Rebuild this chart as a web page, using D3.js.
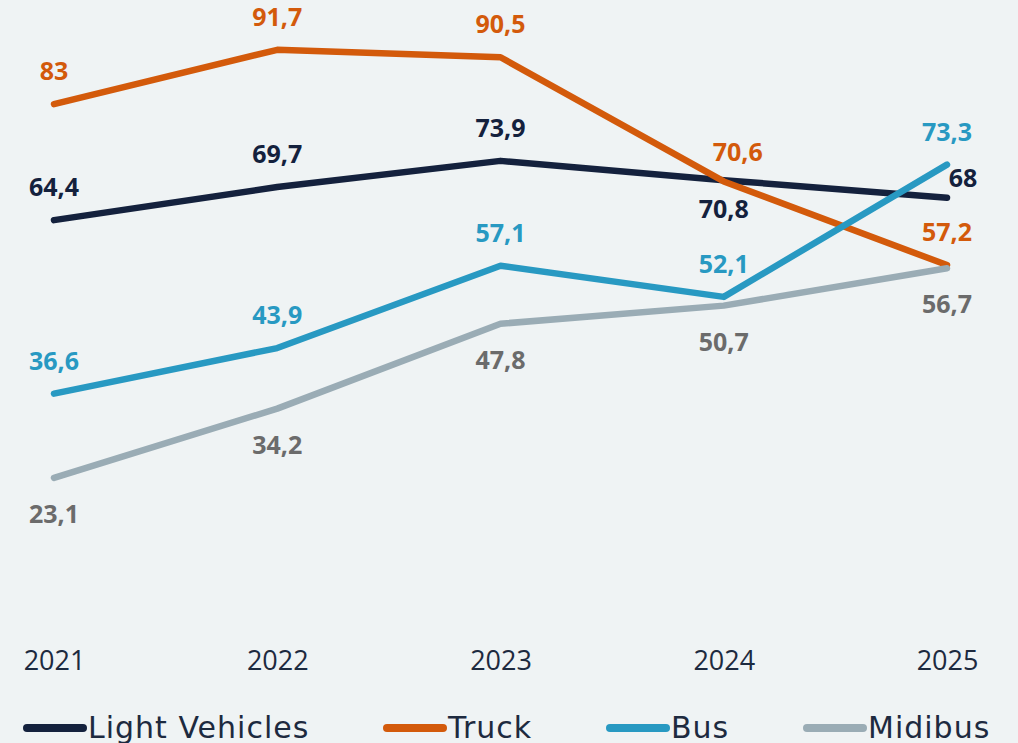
<!DOCTYPE html>
<html>
<head>
<meta charset="utf-8">
<script src="https://cdn.jsdelivr.net/npm/d3@7"></script>
<style>
  html, body { margin: 0; padding: 0; background: #eff3f4; }
  svg { display: block; }
</style>
</head>
<body>
<div id="chart"></div>
<script>
// data
const years = ["2021", "2022", "2023", "2024", "2025"];
const lightVehicles = [64.4, 69.7, 73.9, 70.8, 68];
const truck = [83, 91.7, 90.5, 70.6, 57.2];
const bus = [36.6, 43.9, 57.1, 52.1, 73.3];
const midibus = [23.1, 34.2, 47.8, 50.7, 56.7];

// where each value label sits relative to its point (a = above, b = below, r = right)
const labelPlace = {
  "Light Vehicles": ["a", "a", "a", "b", "r"],
  "Truck": ["a", "a", "a", "ar", "a"],
  "Bus": ["a", "a", "a", "a", "a"],
  "Midibus": ["b", "b", "b", "b", "b"]
};

const series = [
  { name: "Light Vehicles", values: lightVehicles, color: "#14213d", labelColor: "#14213d" },
  { name: "Truck", values: truck, color: "#d35a0b", labelColor: "#d35a0b" },
  { name: "Bus", values: bus, color: "#2899c2", labelColor: "#2899c2" },
  { name: "Midibus", values: midibus, color: "#9aacb5", labelColor: "#6b6b6b" }
];

const width = 1018, height = 743;

const svg = d3.select("#chart").append("svg")
  .attr("width", width)
  .attr("height", height);

svg.append("rect")
  .attr("width", width)
  .attr("height", height)
  .attr("fill", "#eff3f4");

const x = d3.scalePoint()
  .domain(years)
  .range([54, 947]);

const y = d3.scaleLinear()
  .domain([0, 100])
  .range([622, -2]);

// x axis (labels only)
const xAxis = d3.axisBottom(x).tickSize(0).tickPadding(0);
const gx = svg.append("g")
  .attr("transform", "translate(0,650)")
  .call(xAxis);
gx.select(".domain").remove();
gx.selectAll("text")
  .attr("dy", null)
  .attr("y", 20)
  .attr("fill", "#1d2a3f")
  .style("font-family", "'Open Sans', sans-serif")
  .style("font-size", "27px");

const line = d3.line()
  .x((d, i) => x(years[i]))
  .y(d => y(d));

svg.selectAll("path.series")
  .data(series)
  .enter()
  .append("path")
  .attr("class", "series")
  .attr("d", d => line(d.values))
  .attr("fill", "none")
  .attr("stroke", d => d.color)
  .attr("stroke-width", 6.5)
  .attr("stroke-linecap", "round")
  .attr("stroke-linejoin", "round");

// value labels
const fmt = v => String(v).replace(".", ",");
const offsets = {
  a: [0, -24],
  b: [0, 45],
  ar: [14, -20],
  r: [16, -11]
};

series.forEach(s => {
  svg.append("g")
    .selectAll("text")
    .data(s.values)
    .enter()
    .append("text")
    .attr("x", (d, i) => x(years[i]) + offsets[labelPlace[s.name][i]][0])
    .attr("y", (d, i) => {
      const p = labelPlace[s.name][i];
      let dy = offsets[p][1];
      if (p === "b" && s.name !== "Midibus") dy = 38;
      return y(d) + dy;
    })
    .attr("text-anchor", "middle")
    .attr("fill", s.labelColor)
    .style("font-family", "'Open Sans', sans-serif")
    .style("font-weight", "700")
    .style("font-size", "25px")
    .text(d => fmt(d));
});

// legend
const legendX = [27, 387, 610, 807];
const legend = svg.append("g");
series.forEach((s, i) => {
  const g = legend.append("g").attr("transform", `translate(${legendX[i]},728)`);
  g.append("line")
    .attr("x1", 0).attr("x2", 56)
    .attr("stroke", s.color)
    .attr("stroke-width", 8)
    .attr("stroke-linecap", "round");
  g.append("text")
    .attr("x", 61)
    .attr("y", 10)
    .attr("fill", "#1d2a3f")
    .style("font-family", "'DejaVu Sans', sans-serif")
    .style("font-size", "30px")
    .style("letter-spacing", "1px")
    .text(s.name);
});
</script>
</body>
</html>
